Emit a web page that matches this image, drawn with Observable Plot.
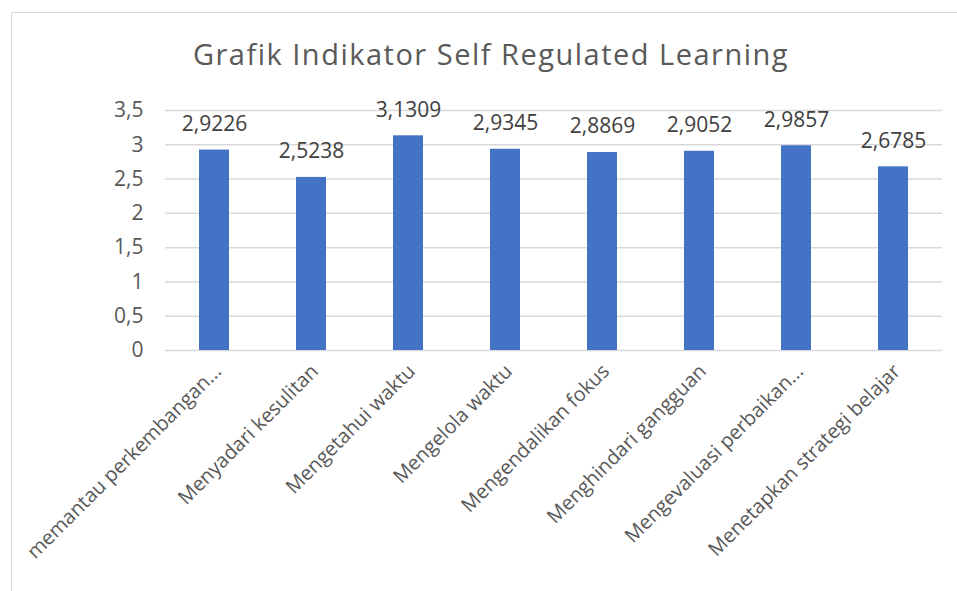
<!DOCTYPE html>
<html>
<head>
<meta charset="utf-8">
<script src="https://cdn.jsdelivr.net/npm/d3@7"></script>
<script src="https://cdn.jsdelivr.net/npm/@observablehq/plot@0.6"></script>
<style>
  html, body { margin: 0; padding: 0; background: #fff; overflow: hidden; }
  #wrap { position: relative; width: 957px; height: 591px; font-family: "Open Sans", sans-serif; }
  #frame { position: absolute; left: 11px; top: 12px; width: 980px; height: 620px; border: 1.5px solid #d9d9d9; box-sizing: border-box; }
  #title { position: absolute; left: 0; width: 982px; top: 34px; text-align: center; font-size: 29px; letter-spacing: 1.5px; color: #595959; }
  #chart { position: absolute; left: 0; top: 0; }
</style>
</head>
<body>
<div id="wrap">
  <div id="frame"></div>
  <div id="chart"></div>
  <div id="title">Grafik Indikator Self Regulated Learning</div>
</div>
<script>
const categories = [
  "memantau perkembangan...",
  "Menyadari kesulitan",
  "Mengetahui waktu",
  "Mengelola waktu",
  "Mengendalikan fokus",
  "Menghindari gangguan",
  "Mengevaluasi perbaikan...",
  "Menetapkan strategi belajar"
];
const values = [2.9226, 2.5238, 3.1309, 2.9345, 2.8869, 2.9052, 2.9857, 2.6785];
const yTicks = [0, 0.5, 1, 1.5, 2, 2.5, 3, 3.5];

const data = categories.map((c, i) => ({category: c, value: values[i]}));
const comma = v => String(v).replace(".", ",");

const chart = Plot.plot({
  width: 957,
  height: 591,
  marginLeft: 165,
  marginRight: 15,
  marginTop: 110,
  marginBottom: 241,
  style: { fontFamily: "Open Sans, sans-serif", color: "#595959", background: "transparent" },
  x: { domain: categories, paddingInner: 0.69, paddingOuter: 0.345, label: null, axis: null },
  y: { domain: [0, 3.5], ticks: yTicks, tickFormat: comma, label: null },
  marks: [
    Plot.gridY(yTicks, { stroke: "#d9d9d9", strokeOpacity: 1, strokeWidth: 1.5 }),
    Plot.barY(data, { x: "category", y: "value", fill: "#4472c4" }),
    Plot.text(data, { x: "category", y: "value", text: d => comma(d.value), dy: -26, fontSize: 21, fill: "#404040" }),
    Plot.axisY({ ticks: yTicks, tickFormat: comma, tickSize: 0, tickPadding: 22, fontSize: 21, label: null }),
    Plot.text(data, {
      x: "category", frameAnchor: "bottom", text: "category",
      rotate: -45, textAnchor: "end", lineAnchor: "bottom",
      dx: 8, dy: 22, fontSize: 20, fill: "#595959"
    })
  ]
});
document.getElementById("chart").appendChild(chart);
</script>
</body>
</html>
